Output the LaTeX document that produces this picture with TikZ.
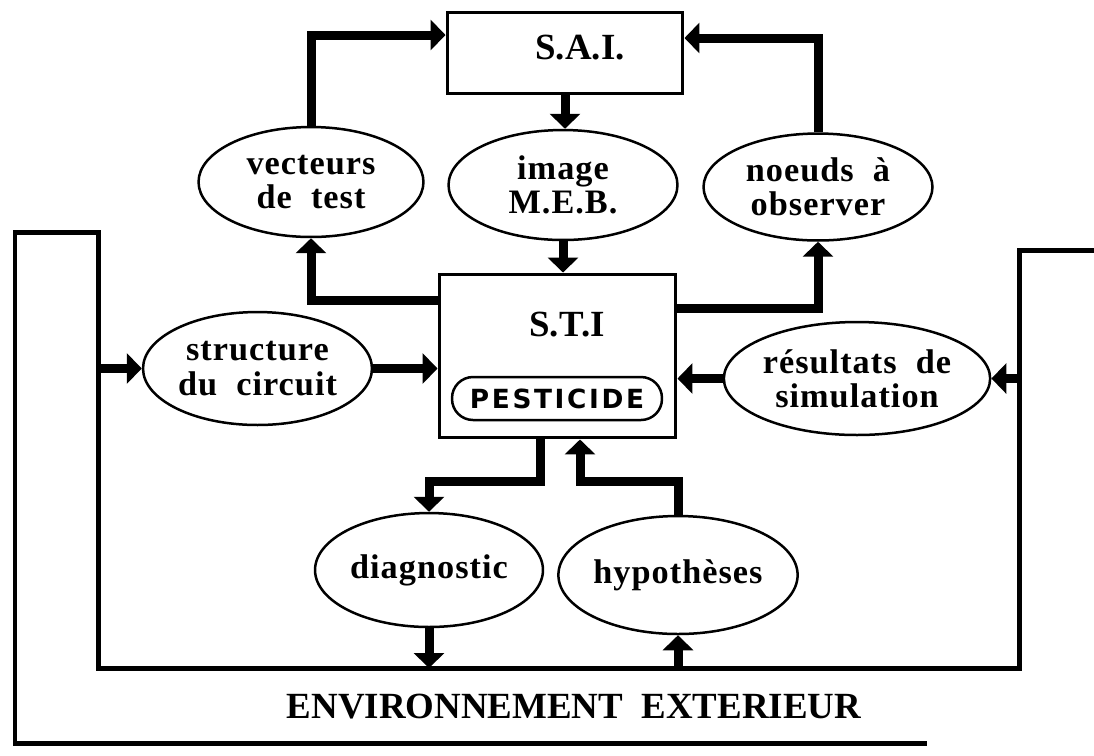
\documentclass[tikz,border=0pt]{standalone}
\usepackage{fontspec}
\setmainfont{Liberation Serif}
\newfontfamily\etiqfont{Liberation Serif}[LetterSpace=3]
\newfontfamily\pestfont{DejaVu Sans}[LetterSpace=10]
\usetikzlibrary{arrows.meta,positioning,shapes}

\begin{document}
\begin{tikzpicture}[x=0.02cm, y=-0.02cm]
		\useasboundingbox (0,0) rectangle (1094,755);

		\tikzstyle{boite}=[rectangle, draw, line width=0.06cm]
		\tikzstyle{bulle}=[ellipse, draw, line width=0.05cm, inner sep=0pt, align=center, font=\etiqfont\bfseries\fontsize{19.5}{19.5}\selectfont]
		\tikzstyle{titre}=[font=\bfseries\fontsize{21}{24}\selectfont]
		\tikzstyle{fleche}=[line width=0.18cm, -{Triangle[length=0.3cm, width=0.6cm]}]
		\tikzstyle{cadre}=[line width=0.1cm]

		% systemes
		\node[boite, minimum width=4.72cm, minimum height=1.62cm] (sai) at (565,52.5) {};
		\node[titre] (saitxt) at (580,48) {S.A.I.};
		\node[boite, minimum width=4.74cm, minimum height=3.28cm] (sti) at (557.5,356) {};
		\node[titre] (stitxt) at (567,325) {S.T.I};
		\node[draw, line width=0.05cm, rounded corners=0.42cm, minimum width=4.2cm, minimum height=0.86cm, font=\pestfont\bfseries\fontsize{15}{15}\selectfont] (pest) at (557,398.5) {PESTICIDE};

		% informations
		\node[bulle, minimum width=4.5cm, minimum height=2.2cm] (vect) at (311,182) {vecteurs\\de\ \ test};
		\node[bulle, minimum width=4.58cm, minimum height=2.2cm] (meb) at (563,185) {image\\M.E.B.};
		\node[bulle, minimum width=4.58cm, minimum height=2.14cm] (noeuds) at (818,187) {noeuds\ \ à\\observer};
		\node[bulle, minimum width=4.58cm, minimum height=2.26cm] (struct) at (257.5,368.5) {structure\\du\ \ circuit};
		\node[bulle, minimum width=4.6cm, minimum height=2.26cm] (result) at (857,378.5) {résultats\ \ de\\simulation};
		\node[bulle, minimum width=4.56cm, minimum height=2.28cm] (diag) at (429,570) {diagnostic};
		\node[bulle, minimum width=4.64cm, minimum height=2.36cm] (hyp) at (678,575) {hypothèses};

		% environnement exterieur
		\coordinate (c1) at (1094,250);
		\coordinate (c2) at (1019,250);
		\coordinate (c3) at (1019,668);
		\coordinate (c4) at (98,668);
		\coordinate (c5) at (98,232);
		\coordinate (c6) at (15,232);
		\coordinate (c7) at (15,743);
		\coordinate (c8) at (927,743);
		\draw[cadre] (c1) -- (c2) -- (c3) -- (c4) -- (c5) -- (c6) -- (c7) -- (c8);
		\node[titre] (env) at (574,707) {ENVIRONNEMENT\ \ EXTERIEUR};

		% liaisons
		\draw[fleche] (vect.north) |- ([yshift=0.35cm]sai.west);
		\draw[fleche] (noeuds.north) |- ([yshift=0.29cm]sai.east);
		\draw[fleche] (sai.south) -- (sai.south |- meb.north);
		\draw[fleche] (meb.south) -- (meb.south |- sti.north);
		\draw[fleche] ([yshift=1.12cm]sti.west) -| (vect.south);
		\draw[fleche] ([yshift=0.96cm]sti.east) -| (noeuds.south);
		\draw[fleche] (c5 |- struct.west) -- (struct.west);
		\draw[fleche] (struct.east) -- (struct.east -| sti.west);
		\draw[fleche] (c2 |- result.east) -- (result.east);
		\draw[fleche] (result.west) -- (result.west -| sti.east);
		\draw[fleche] ([xshift=-0.35cm]sti.south) -- ++(0,-0.84cm) -| (diag.north);
		\draw[fleche] (hyp.north) -- ++(0,0.66cm) -| ([xshift=0.45cm]sti.south);
		\draw[fleche] (diag.south) -- (diag.south |- c4);
		\draw[fleche] (hyp.south |- c4) -- (hyp.south);

\end{tikzpicture}
\end{document}
